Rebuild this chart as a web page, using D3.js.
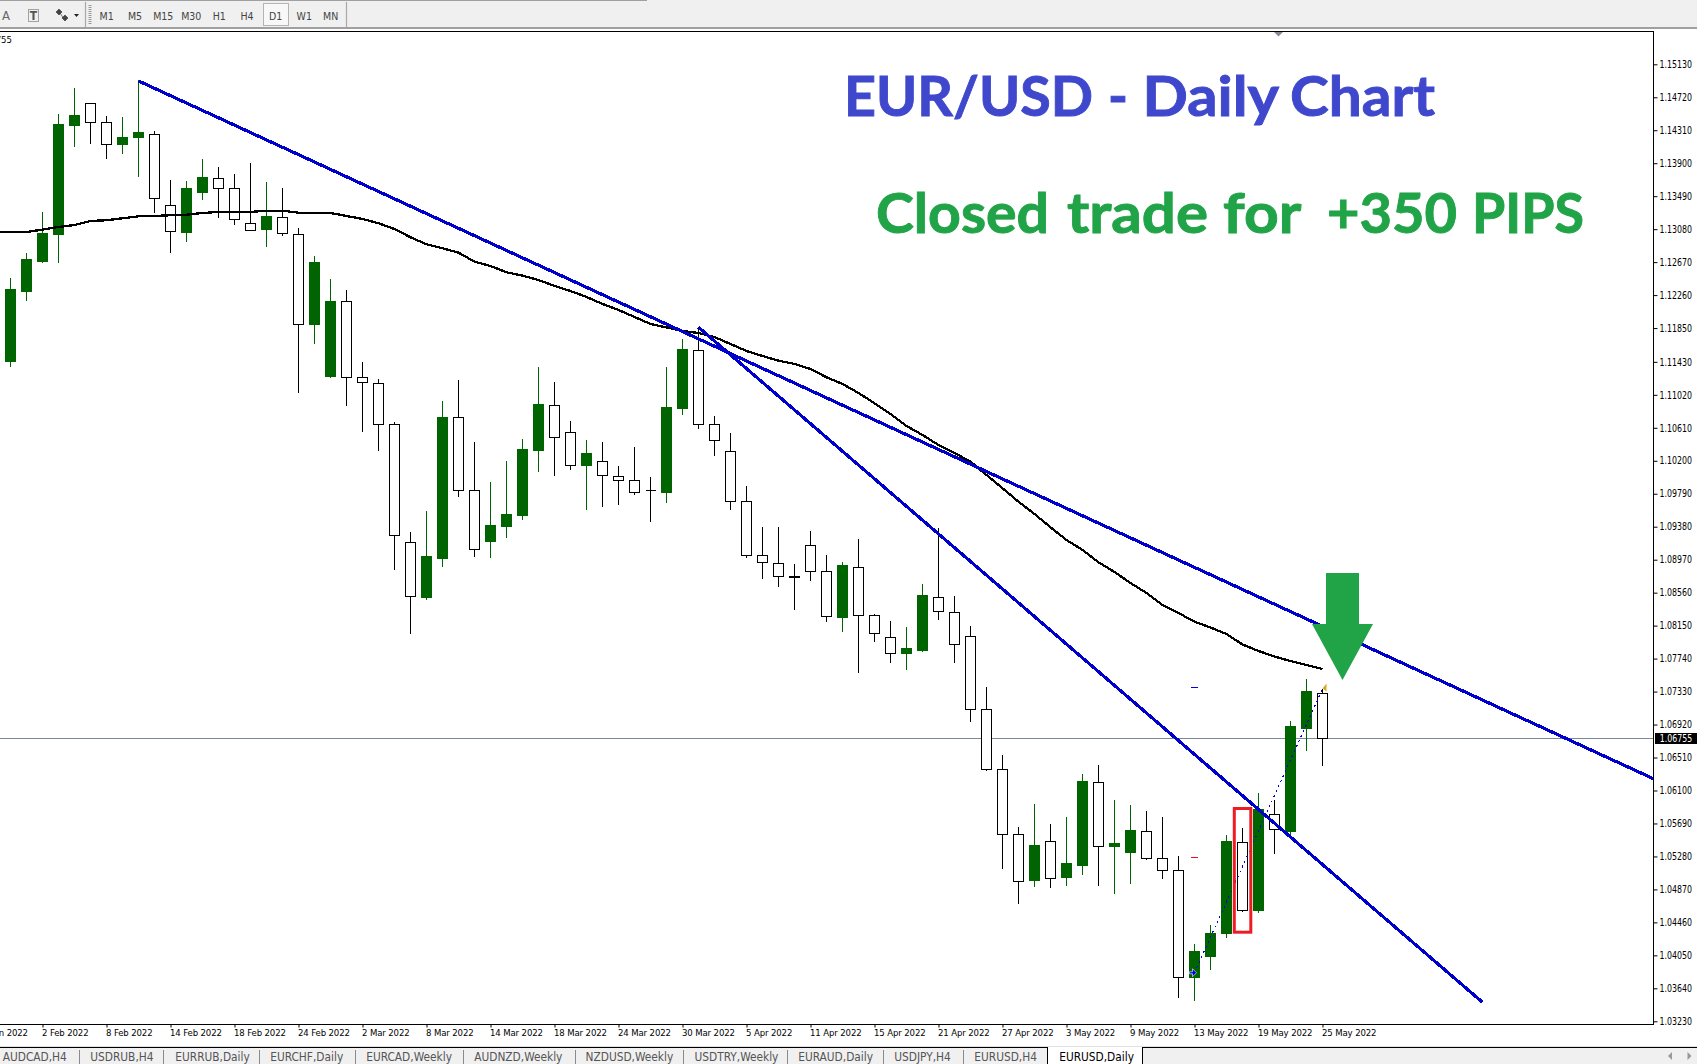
<!DOCTYPE html>
<html><head><meta charset="utf-8">
<script src="https://cdn.jsdelivr.net/npm/d3@7"></script>
<style>
html,body{margin:0;padding:0;background:#fff;overflow:hidden}
svg{display:block}
text{font-family:"DejaVu Sans Condensed","DejaVu Sans",sans-serif;white-space:pre}
</style></head><body><svg id="c" width="1697" height="1064"></svg>
<script>
const opens=[1.11432,1.12311,1.12684,1.13008,1.14363,1.14645,1.14409,1.14127,1.14214,1.14260,1.13377,1.13033,1.13530,1.13713,1.13588,1.13153,1.13070,1.13228,1.13017,1.11889,1.11246,1.12183,1.11238,1.11164,1.10654,1.09187,1.08506,1.08979,1.10741,1.09833,1.09190,1.09377,1.09514,1.10322,1.10890,1.10554,1.10135,1.10194,1.10007,1.09958,1.09833,1.09800,1.10844,1.11574,1.10654,1.10318,1.09696,1.09025,1.08925,1.08764,1.09149,1.08826,1.08249,1.08876,1.08279,1.08005,1.07801,1.07847,1.08503,1.08316,1.08018,1.07110,1.06364,1.05556,1.04979,1.05469,1.05012,1.05165,1.06202,1.05398,1.05335,1.05593,1.05257,1.05108,1.03772,1.04030,1.04320,1.05456,1.04605,1.05804,1.05584,1.06869,1.07309];
const highs=[1.12473,1.12784,1.13294,1.14512,1.14836,1.14645,1.14488,1.14475,1.14935,1.14301,1.13692,1.13679,1.13953,1.13853,1.13766,1.13903,1.13667,1.13592,1.13091,1.12747,1.12461,1.12324,1.11425,1.11217,1.10679,1.09315,1.09576,1.10944,1.11205,1.10434,1.09936,1.10197,1.10471,1.11366,1.11180,1.10695,1.10459,1.10434,1.10135,1.10372,1.09999,1.11366,1.11715,1.11864,1.10757,1.10546,1.09887,1.09377,1.09377,1.08917,1.09327,1.09029,1.08942,1.09228,1.08291,1.08208,1.08133,1.08668,1.09361,1.08519,1.08146,1.07387,1.06542,1.05646,1.05932,1.05684,1.05771,1.06305,1.06417,1.05982,1.05920,1.05845,1.05771,1.05286,1.04191,1.04424,1.05547,1.05634,1.06069,1.05982,1.06964,1.07487,1.07362];
const lows=[1.11370,1.12191,1.12663,1.12663,1.14106,1.14139,1.13957,1.14015,1.13733,1.13285,1.12788,1.12924,1.13443,1.13223,1.13136,1.13058,1.12862,1.12999,1.11047,1.11656,1.11233,1.10885,1.10562,1.10326,1.08842,1.08050,1.08473,1.08883,1.09754,1.09008,1.08995,1.09244,1.09464,1.10064,1.10015,1.10089,1.09592,1.09629,1.09654,1.09778,1.09443,1.09679,1.10769,1.10599,1.10263,1.09592,1.08995,1.08734,1.08634,1.08349,1.08709,1.08199,1.08075,1.07565,1.07950,1.07689,1.07602,1.07826,1.08224,1.07689,1.06956,1.06346,1.05128,1.04692,1.04904,1.04891,1.04916,1.05053,1.04916,1.04817,1.04941,1.05240,1.05003,1.03524,1.03486,1.03872,1.04270,1.04593,1.04581,1.05314,1.05547,1.06595,1.06409];
const closes=[1.12324,1.12697,1.13020,1.14376,1.14488,1.14409,1.14131,1.14214,1.14276,1.13459,1.13049,1.13580,1.13717,1.13584,1.13198,1.13061,1.13232,1.13024,1.11897,1.12660,1.12175,1.11233,1.11176,1.10654,1.09274,1.08510,1.09004,1.10732,1.09833,1.09099,1.09389,1.09538,1.10334,1.10894,1.10492,1.10144,1.10285,1.10020,1.09952,1.09803,1.09833,1.10857,1.11578,1.10649,1.10455,1.09691,1.09025,1.08933,1.08759,1.08746,1.08821,1.08261,1.08892,1.08274,1.08050,1.07806,1.07860,1.08519,1.08323,1.07918,1.07110,1.06364,1.05556,1.04971,1.05422,1.05003,1.05186,1.06206,1.05401,1.05447,1.05597,1.05252,1.05103,1.03777,1.04104,1.04316,1.05460,1.04610,1.05858,1.05618,1.06890,1.07325,1.06749];
// moving average, first value belongs to the bar before the first visible one
const movingAverage=[1.13045,1.13045,1.13045,1.13074,1.13107,1.13132,1.13182,1.13191,1.13215,1.13240,1.13244,1.13253,1.13260,1.13281,1.13294,1.13294,1.13294,1.13310,1.13310,1.13285,1.13285,1.13281,1.13244,1.13207,1.13153,1.13082,1.12979,1.12892,1.12842,1.12788,1.12676,1.12622,1.12544,1.12502,1.12448,1.12374,1.12311,1.12237,1.12150,1.12075,1.11988,1.11901,1.11858,1.11814,1.11789,1.11739,1.11652,1.11565,1.11503,1.11445,1.11404,1.11341,1.11238,1.11155,1.11043,1.10915,1.10782,1.10633,1.10521,1.10396,1.10297,1.10189,1.10023,1.09858,1.09691,1.09538,1.09373,1.09215,1.09091,1.08938,1.08817,1.08680,1.08556,1.08407,1.08307,1.08199,1.08127,1.08046,1.07916,1.07835,1.07766,1.07710,1.07661,1.07611];
const priceTicks=[1.15130,1.14720,1.14310,1.13900,1.13490,1.13080,1.12670,1.12260,1.11850,1.11430,1.11020,1.10610,1.10200,1.09790,1.09380,1.08970,1.08560,1.08150,1.07740,1.07330,1.06920,1.06510,1.06100,1.05690,1.05280,1.04870,1.04460,1.04050,1.03640,1.03230];
const dateTickBars=[-2,2,6,10,14,18,22,26,30,34,38,42,46,50,54,58,62,66,70,74,78,82];
const dateTickLabels=["27 Jan 2022","2 Feb 2022","8 Feb 2022","14 Feb 2022","18 Feb 2022","24 Feb 2022","2 Mar 2022","8 Mar 2022","14 Mar 2022","18 Mar 2022","24 Mar 2022","30 Mar 2022","5 Apr 2022","11 Apr 2022","15 Apr 2022","21 Apr 2022","27 Apr 2022","3 May 2022","9 May 2022","13 May 2022","19 May 2022","25 May 2022"];
const trendUpper=[[8,1.14923],[102.675,1.06247]];
const trendLower=[[43,1.11860],[92,1.03466]];
const trade=[[74,1.03834],[82,1.07362]];
const takeProfitPrice=1.07384, stopLossPrice=1.05269, tradeBar=74;
const lastPrice=1.06755;
const highlightBar=77, highlightTop=1.05876, highlightBottom=1.04338;
const arrowBar=83.25, arrowTop=1.08805, arrowTip=1.07474, arrowNeck=1.08171;
const tabNames=["AUDCAD,H4","USDRUB,H4","EURRUB,Daily","EURCHF,Daily","EURCAD,Weekly","AUDNZD,Weekly","NZDUSD,Weekly","USDTRY,Weekly","EURAUD,Daily","USDJPY,H4","EURUSD,H4","EURUSD,Daily"];
const tabStarts=[2.7,90.3,175.3,270.2,366.2,474.2,585.5,694.5,798.2,894.3,974.3,1059.2];
const tabSeps=[79.2,163.8,259.5,355,463.5,575.2,683.4,787,883.6,963.2];
const timeframes=["M1","M5","M15","M30","H1","H4","D1","W1","MN"];
const timeframeX=[106.7,135,163.3,191.3,219.3,247,275.7,304.3,330.7];

const svg=d3.select("#c");
const W=1697,H=1064,axisX=1653.5,topY=31.5,botY=1024.5;
const x=d3.scaleLinear().domain([0,82]).range([10.5,1322.5]);
const y=d3.scaleLinear().domain([1.0323,1.1513]).range([1021.3,64.3]);
const snap=v=>Math.round(v-0.5)+0.5;
const GREEN="#006400";

svg.append("defs").append("clipPath").attr("id","plot").append("rect").attr("x",0).attr("y",32).attr("width",axisX).attr("height",botY-32);

// chrome: toolbar
const tb=svg.append("g");
tb.append("rect").attr("width",W).attr("height",27).attr("fill","#f0f0f0");
tb.append("line").attr("x1",0).attr("x2",647).attr("y1",0.5).attr("y2",0.5).attr("stroke","#a0a0a0");
tb.append("rect").attr("y",27).attr("width",W).attr("height",2).attr("fill","#a0a0a0");
tb.append("rect").attr("x",263.5).attr("y",3.5).attr("width",25).attr("height",22).attr("fill","#f8f8f8").attr("stroke","#b4b4b4").attr("stroke-width",1);
[85.5,346.5].forEach(v=>{tb.append("line").attr("x1",v).attr("x2",v).attr("y1",2).attr("y2",27).attr("stroke","#a8a8a8").attr("stroke-width",1.2);});
tb.append("line").attr("x1",90).attr("x2",90).attr("y1",5).attr("y2",24).attr("stroke","#999").attr("stroke-width",3).attr("stroke-dasharray","1 1");
tb.append("text").attr("x",2).attr("y",20).attr("font-size",13).attr("fill","#666").text("A");
tb.append("rect").attr("x",28.5).attr("y",9.5).attr("width",10).attr("height",12).attr("fill","none").attr("stroke","#555").attr("stroke-dasharray","1 1");
tb.append("text").attr("x",33.5).attr("y",20).attr("text-anchor","middle").attr("font-size",12).attr("font-weight","bold").attr("fill","#555").text("T");
tb.append("path").attr("d","M59 9l3 3-3 3-3-3zM65 15l3 3-3 3-3-3zM60 13l4 6").attr("fill","#444").attr("stroke","#444").attr("stroke-width",.7);
tb.append("path").attr("d","M74 14h5l-2.5 3z").attr("fill","#222");
tb.selectAll("text.tf").data(timeframes).join("text").attr("class","tf")
  .attr("x",(d,i)=>timeframeX[i]).attr("y",19.5).attr("text-anchor","middle").attr("font-size",10.5).attr("fill","#444").text(d=>d);
svg.append("path").attr("d","M1274 32h9l-4.5 4.5z").attr("fill","#8a8a95");

// price line, behind the candles
const lastY=snap(y(lastPrice)+0.7);
svg.append("line").attr("x1",0).attr("x2",axisX).attr("y1",lastY).attr("y2",lastY).attr("stroke","#778899").attr("shape-rendering","crispEdges");

const plot=svg.append("g").attr("clip-path","url(#plot)");
const bars=d3.range(opens.length).map(i=>({i,o:opens[i],h:highs[i],l:lows[i],c:closes[i],up:closes[i]>opens[i]}));

const candles=plot.append("g").selectAll("g").data(bars).join("g").attr("shape-rendering","crispEdges");
candles.append("line").attr("x1",d=>x(d.i)).attr("x2",d=>x(d.i))
  .attr("y1",d=>Math.round(y(d.h))).attr("y2",d=>Math.round(y(d.l)))
  .attr("stroke",d=>d.up?GREEN:"#000").attr("stroke-width",1);
candles.append("path").attr("d",d=>{
   const t=snap(y(Math.max(d.o,d.c))),b=snap(y(Math.min(d.o,d.c))),cx=x(d.i);
   return `M${cx-5},${t}H${cx+5}V${b}H${cx-5}Z`;})
  .attr("fill",d=>d.up?GREEN:"#fff").attr("stroke",d=>d.up?GREEN:"#000").attr("stroke-width",1);

// moving average
plot.append("path").datum(movingAverage)
  .attr("d",d3.line().x((d,i)=>x(i-1)).y(d=>y(d)))
  .attr("fill","none").attr("stroke","#000").attr("stroke-width",2.3).attr("shape-rendering","crispEdges");

// trend lines
[trendUpper,trendLower].forEach(t=>{
  plot.append("path").datum(t).attr("d",d3.line().x(d=>x(d[0])).y(d=>y(d[1])))
   .attr("fill","none").attr("stroke","#0000CD").attr("stroke-width",3.2).attr("shape-rendering","crispEdges");
});

// trade markers
plot.append("path").datum(trade).attr("d",d3.line().x(d=>x(d[0])).y(d=>y(d[1])))
  .attr("fill","none").attr("stroke","#0000E6").attr("stroke-width",1.1).attr("stroke-dasharray","2 3.5").attr("shape-rendering","crispEdges");
plot.append("line").attr("x1",x(tradeBar)-3.5).attr("x2",x(tradeBar)+3.5).attr("y1",snap(y(takeProfitPrice))).attr("y2",snap(y(takeProfitPrice))).attr("stroke","#0000E6").attr("shape-rendering","crispEdges");
plot.append("line").attr("x1",x(tradeBar)-3.5).attr("x2",x(tradeBar)+3.5).attr("y1",snap(y(stopLossPrice))).attr("y2",snap(y(stopLossPrice))).attr("stroke","#F01010").attr("shape-rendering","crispEdges");
{const ex=x(trade[0][0])-2,ey=y(trade[0][1]);
 plot.append("path").attr("d",`M${ex-3},${ey-1}h3v-3l4,4-4,4v-3h-3z`).attr("fill","#0000E6").attr("stroke","#fff").attr("stroke-width",.6);
 const gx=x(trade[1][0]),gy=y(trade[1][1]);
 plot.append("path").attr("d",`M${gx},${gy-0.5}l4-5v8z`).attr("fill","#DAA520");}

// axes
const yAxis=d3.axisRight(y).tickValues(priceTicks).tickFormat(d=>d.toFixed(5)).tickSize(4).tickPadding(2).tickSizeOuter(0);
const gy=svg.append("g").attr("transform",`translate(${axisX},0)`).call(yAxis);
gy.select(".domain").remove();
gy.selectAll("text").attr("font-size",10).attr("font-family",null).attr("fill","#000");
gy.selectAll(".tick text").attr("textLength",32.5).attr("lengthAdjust","spacingAndGlyphs");
const xAxis=d3.axisBottom(x).tickValues(dateTickBars).tickFormat((d,i)=>dateTickLabels[i]).tickSize(3).tickSizeOuter(0);
const gx=svg.append("g").attr("transform",`translate(0,${botY})`).call(xAxis);
gx.select(".domain").remove();
gx.selectAll("text").attr("text-anchor","start").attr("x",-1).attr("y",5).attr("dy",".71em").attr("font-size",9.5).attr("letter-spacing",-0.12).attr("font-family",null).attr("fill","#000");
svg.append("path").attr("d",`M0,${topY}H${axisX}V${botY}H0`).attr("fill","none").attr("stroke","#000").attr("shape-rendering","crispEdges");

// last price tag and clipped header value
svg.append("rect").attr("x",1655).attr("y",lastY-5.5).attr("width",42).attr("height",11).attr("fill","#000");
svg.append("text").attr("x",1659.7).attr("y",lastY+3.5).attr("font-size",10).attr("fill","#fff").attr("textLength",32.5).attr("lengthAdjust","spacingAndGlyphs").text(lastPrice.toFixed(5));
svg.append("text").attr("x",12).attr("y",43).attr("text-anchor","end").attr("font-size",9.5).attr("fill","#000").text(lastPrice.toFixed(5));

// painted annotations
svg.append("rect").attr("x",x(highlightBar)-8.2).attr("width",16.5)
  .attr("y",y(highlightTop)).attr("height",y(highlightBottom)-y(highlightTop))
  .attr("fill","none").attr("stroke","#ED1C24").attr("stroke-width",3);
{const cx=x(arrowBar),t=y(arrowTop),n=y(arrowNeck),tip=y(arrowTip);
 svg.append("path").attr("d",`M${cx-16.5},${t}H${cx+16.5}V${n}H${cx+30.5}L${cx},${tip}L${cx-30.5},${n}H${cx-16.5}Z`).attr("fill","#21A348");}

// painted headlines: one text each, words placed as in the picture
function headline(baseline,color,words){
  const t=svg.append("text").attr("y",baseline).attr("font-size",56).attr("fill",color).attr("stroke",color).attr("stroke-width",0.9)
    .attr("style","font-family:Lato;font-weight:700;white-space:pre");
  words.forEach(w=>{
    t.append("tspan").attr("x",w.x).attr("textLength",w.len).attr("lengthAdjust","spacingAndGlyphs").text(w.s);
    if(w.gap) t.append("tspan").text(w.gap);
  });
}
headline(116,"#3F48CC",[{s:"EUR/USD",x:844,len:249,gap:" "},{s:"-",x:1108,len:20,gap:" "},{s:"Daily",x:1142.5,len:135,gap:" "},{s:"Chart",x:1290,len:145}]);
headline(232.7,"#21A348",[{s:"Closed",x:876,len:173,gap:" "},{s:"trade",x:1067,len:141,gap:" "},{s:"for",x:1223,len:77,gap:"  "},{s:"+350",x:1327,len:130,gap:" "},{s:"PIPS",x:1472,len:112}]);

// chrome: tab bar
const tabs=svg.append("g");
tabs.append("rect").attr("y",1046).attr("width",W).attr("height",1).attr("fill","#e0e0e0");
tabs.append("rect").attr("y",1047).attr("width",W).attr("height",17).attr("fill","#f0f0f0");
tabs.append("rect").attr("y",1047).attr("width",W).attr("height",1).attr("fill","#000");
tabs.append("path").attr("d","M1047.5,1048V1064M1142.5,1048V1064").attr("stroke","#000").attr("shape-rendering","crispEdges");
tabs.append("rect").attr("x",1048).attr("y",1047).attr("width",94).attr("height",17).attr("fill","#fff");
tabs.selectAll("line.sep").data(tabSeps).join("line").attr("class","sep").attr("x1",d=>d).attr("x2",d=>d).attr("y1",1050).attr("y2",1064).attr("stroke","#8a8a8a").attr("shape-rendering","crispEdges");
tabs.selectAll("text.tab").data(tabNames).join("text").attr("class","tab").attr("x",(d,i)=>tabStarts[i]).attr("y",1061).attr("font-size",11.8)
  .attr("fill",(d,i)=>i===tabNames.length-1?"#000":"#555").text(d=>d);
tabs.append("path").attr("d","M1672,1052v8l-4-4zM1687.5,1052v8l4-4z").attr("fill","#999");
</script></body></html>
